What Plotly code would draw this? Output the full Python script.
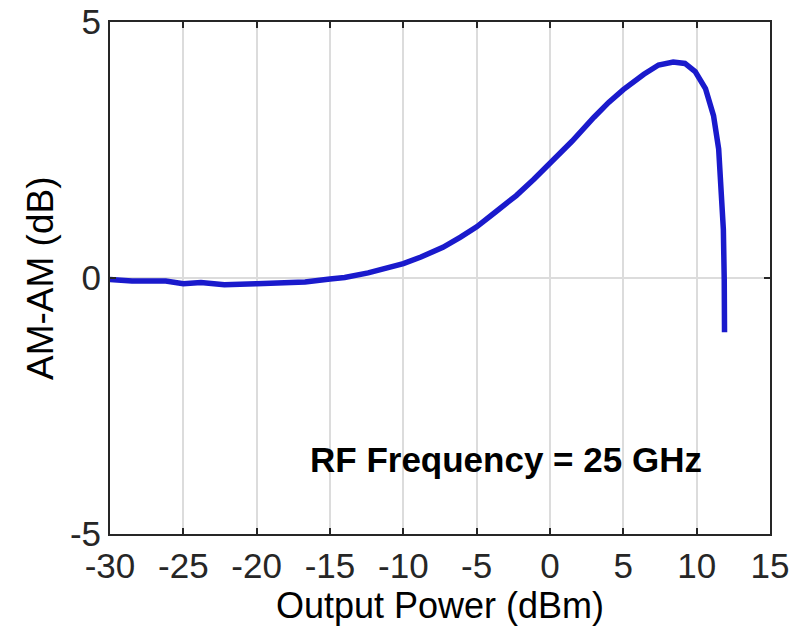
import plotly.graph_objects as go

output_power_dbm = [-30, -28.5, -26.2, -25, -23.8, -22.2, -20, -16.7, -15, -14, -12.4, -11.2,
                    -10, -8.8, -7.3, -6.1, -5, -3.8, -2.3, -1.1, 0, 1.5, 3.0, 4.0, 5.0, 5.7,
                    6.4, 7.4, 8.4, 9.2, 9.9, 10.6, 11.15, 11.5, 11.7, 11.82, 11.88, 11.9]
am_am_db = [-0.03, -0.06, -0.06, -0.11, -0.09, -0.13, -0.11, -0.08, -0.02, 0.01, 0.10, 0.19,
            0.28, 0.41, 0.60, 0.80, 1.00, 1.27, 1.61, 1.93, 2.23, 2.67, 3.14, 3.43, 3.68, 3.84,
            3.98, 4.16, 4.22, 4.19, 4.03, 3.70, 3.17, 2.52, 1.73, 0.95, -0.03, -1.06]

x_ticks = [-30, -25, -20, -15, -10, -5, 0, 5, 10, 15]
y_ticks = [-5, 0, 5]
annotation_text = "RF Frequency = 25 GHz"
y_title = "AM-AM (dB)"
x_title = "Output Power (dBm)"

font_family = "Liberation Sans, Arial, sans-serif"
axis_color = "#262626"

fig = go.Figure()
fig.add_trace(go.Scatter(
    x=output_power_dbm, y=am_am_db, mode="lines",
    line=dict(color="rgb(26,26,204)", width=5.5),
    showlegend=False,
))

fig.add_annotation(
    x=-3.0, y=-3.54, xref="x", yref="y", text="<b>" + annotation_text + "</b>",
    showarrow=False, font=dict(family=font_family, size=35, color="black"),
)
fig.add_annotation(
    x=-0.106, y=0.5, xref="paper", yref="paper", text=y_title, textangle=-90,
    xanchor="center", yanchor="middle", showarrow=False,
    font=dict(family=font_family, size=37, color="black"),
)

common = dict(
    showline=True, linecolor=axis_color, linewidth=2, mirror="ticks",
    ticks="inside", ticklen=6, tickwidth=1.5, tickcolor=axis_color,
    showgrid=True, gridcolor="#dcdcdc", gridwidth=1.5, zeroline=False,
    tickfont=dict(family=font_family, size=35, color=axis_color),
    automargin=False, ticklabeloverflow="allow",
)

fig.update_xaxes(
    range=[-30, 15], tickvals=x_ticks, ticktext=[str(v) for v in x_ticks],
    title=dict(text=x_title, font=dict(family=font_family, size=36, color="black"), standoff=4),
    **common,
)
fig.update_yaxes(
    range=[-5, 5], tickvals=y_ticks, ticktext=[str(v) for v in y_ticks],
    **common,
)

fig.update_layout(
    width=807, height=641,
    margin=dict(l=110, r=37, t=22, b=107),
    plot_bgcolor="white", paper_bgcolor="white",
)

fig.write_html(
    "out.html",
    config={"displayModeBar": False},
    post_script="document.body.style.margin='0';document.body.style.overflow='hidden';",
)
